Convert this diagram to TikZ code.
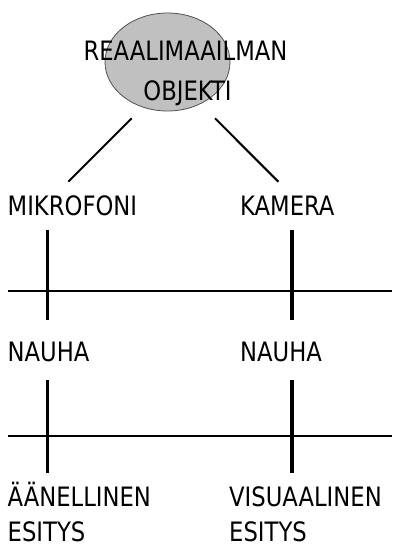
\documentclass[tikz,border=0pt]{standalone}
\usepackage{fontspec}
\setmainfont[FakeStretch=0.85]{DejaVu Sans}
\usetikzlibrary{shapes.geometric}
\definecolor{objfill}{RGB}{192,192,192}
\definecolor{objline}{RGB}{80,80,80}
\tikzset{
  lbl/.style={anchor=base west, inner sep=0pt, font=\fontsize{26.7}{30}\selectfont},
  ttl/.style={anchor=base, inner sep=0pt, font=\fontsize{26.7}{30}\selectfont},
  vline/.style={line width=3.3pt},
  hline/.style={line width=2pt},
  diag/.style={line width=2pt}
}
\begin{document}
\begin{tikzpicture}[x=1pt,y=-1pt]
\useasboundingbox (0,0) rectangle (400,555);
\node[ellipse, fill=objfill, draw=objline, line width=0.8pt, minimum width=125pt, minimum height=98pt, inner sep=0pt] (obj) at (167.5,62) {};
\node[ttl] (t1) at (185.5,60) {REAALIMAAILMAN};
\node[ttl] (t2) at (187.5,100) {OBJEKTI};
\coordinate (dl1) at (131.7,118.3);
\coordinate (dl2) at (68.3,181.7);
\coordinate (dr1) at (215,118.3);
\coordinate (dr2) at (278.3,181.7);
\draw[diag] (dl1) -- (dl2);
\draw[diag] (dr1) -- (dr2);
\node[lbl] (mik) at (7.5,215) {MIKROFONI};
\node[lbl] (kam) at (240,215) {KAMERA};
\node[lbl] (n1) at (7.5,361) {NAUHA};
\node[lbl] (n2) at (240,361) {NAUHA};
\node[lbl] (a1) at (7.5,506.7) {ÄÄNELLINEN};
\node[lbl] (a2) at (7.5,541.7) {ESITYS};
\node[lbl] (v1) at (229,506.7) {VISUAALINEN};
\node[lbl] (v2) at (229,541.7) {ESITYS};
\coordinate (h1l) at (8,291);
\coordinate (h1r) at (392,291);
\coordinate (h2l) at (8,436);
\coordinate (h2r) at (392,436);
\draw[hline] (h1l) -- (h1r);
\draw[hline] (h2l) -- (h2r);
\coordinate (m1) at (47.7,230);
\coordinate (m2) at (47.7,320);
\coordinate (k1) at (292,230);
\coordinate (k2) at (292,320);
\coordinate (m3) at (47.7,380);
\coordinate (m4) at (47.7,473);
\coordinate (k3) at (292,380);
\coordinate (k4) at (292,473);
\draw[vline] (m1) -- (m2);
\draw[vline] (k1) -- (k2);
\draw[vline] (m3) -- (m4);
\draw[vline] (k3) -- (k4);
\end{tikzpicture}
\end{document}
